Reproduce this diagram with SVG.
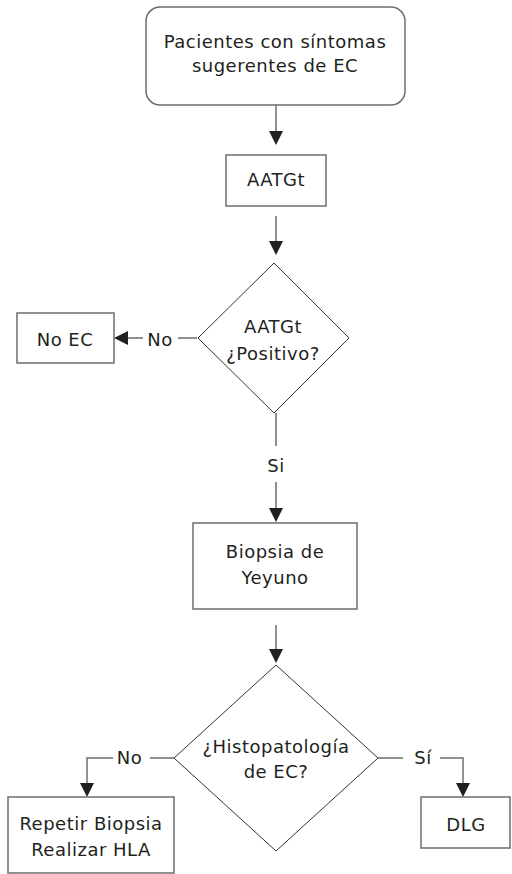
<svg xmlns="http://www.w3.org/2000/svg" width="512" height="874" viewBox="0 0 512 874">
<style>
.box{fill:#fff;stroke:#6d6d6d;stroke-width:1.5}
.dia{fill:#fff;stroke:#333;stroke-width:1}
.ln{fill:none;stroke:#6d6d6d;stroke-width:1.5}
.hd{fill:#231f20}
text{font-family:"DejaVu Sans","Liberation Sans",sans-serif;font-size:18px;fill:#231f20;text-anchor:middle;letter-spacing:0.5px}
</style>
<rect width="512" height="874" fill="#fff"/>
<g id="connectors">
<line class="ln" x1="276" y1="105" x2="276" y2="133"/>
<polygon class="hd" points="269,131 283,131 276,145"/>
<line class="ln" x1="276" y1="216" x2="276" y2="243"/>
<polygon class="hd" points="269,241 283,241 276,255"/>
<line class="ln" x1="197" y1="338" x2="178" y2="338"/>
<text x="160" y="346">No</text>
<line class="ln" x1="143" y1="338" x2="127" y2="338"/>
<polygon class="hd" points="128,331 128,345 114,338"/>
<line class="ln" x1="276" y1="413" x2="276" y2="446"/>
<text x="276" y="472">Si</text>
<line class="ln" x1="276" y1="482" x2="276" y2="510"/>
<polygon class="hd" points="269,508 283,508 276,522"/>
<line class="ln" x1="276" y1="625" x2="276" y2="651"/>
<polygon class="hd" points="269,649 283,649 276,663"/>
<line class="ln" x1="174" y1="758" x2="150" y2="758"/>
<text x="129.5" y="764">No</text>
<polyline class="ln" points="113,758 87,758 87,785"/>
<polygon class="hd" points="80,783 94,783 87,797"/>
<line class="ln" x1="378" y1="758" x2="403" y2="758"/>
<text x="423" y="764">Sí</text>
<polyline class="ln" points="440,758 463,758 463,785"/>
<polygon class="hd" points="456,783 470,783 463,797"/>
</g>
<g id="start">
<rect class="box" x="146" y="7" width="259" height="98" rx="14"/>
<text x="275" y="48">Pacientes con síntomas</text>
<text x="275" y="72">sugerentes de EC</text>
</g>
<g id="aatgt">
<rect class="box" x="226" y="155" width="100" height="51"/>
<text x="276" y="186">AATGt</text>
</g>
<g id="decision1">
<polygon class="dia" points="274,263 349,338 274,413 198,338"/>
<text x="273" y="333">AATGt</text>
<text x="273" y="360">¿Positivo?</text>
</g>
<g id="noec">
<rect class="box" x="17" y="313" width="97" height="50"/>
<text x="65" y="346">No EC</text>
</g>
<g id="biopsia">
<rect class="box" x="193" y="523" width="164" height="86"/>
<text x="275" y="558">Biopsia de</text>
<text x="275" y="584">Yeyuno</text>
</g>
<g id="decision2">
<polygon class="dia" points="276,665 378,758 276,851 174,758"/>
<text x="276" y="753">¿Histopatología</text>
<text x="276" y="778">de EC?</text>
</g>
<g id="repetir">
<rect class="box" x="8" y="797" width="166" height="76"/>
<text x="91" y="830">Repetir Biopsia</text>
<text x="91" y="856">Realizar HLA</text>
</g>
<g id="dlg">
<rect class="box" x="421" y="797" width="89" height="51"/>
<text x="466" y="831">DLG</text>
</g>
</svg>
